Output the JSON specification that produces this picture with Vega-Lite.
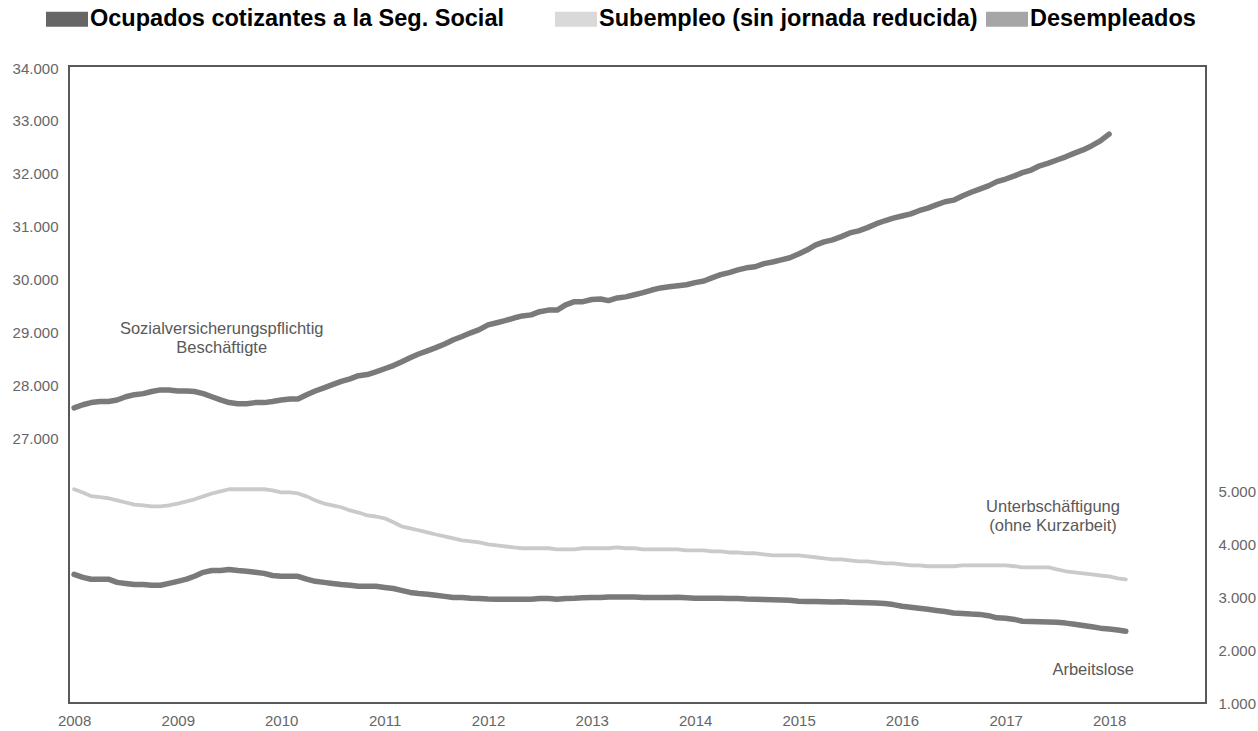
{
  "$schema": "https://vega.github.io/schema/vega-lite/v6.json",
  "width": 1137,
  "height": 637,
  "autosize": {"type": "none"},
  "padding": {"left": 69, "top": 66, "right": 52, "bottom": 28},
  "background": "white",
  "datasets": {
    "ocupados": [
      {"date":"2008-01","value":27570},{"date":"2008-02","value":27630},{"date":"2008-03","value":27670},{"date":"2008-04","value":27690},{"date":"2008-05","value":27690},{"date":"2008-06","value":27720},{"date":"2008-07","value":27780},{"date":"2008-08","value":27820},{"date":"2008-09","value":27840},{"date":"2008-10","value":27880},{"date":"2008-11","value":27910},{"date":"2008-12","value":27910},
      {"date":"2009-01","value":27890},{"date":"2009-02","value":27890},{"date":"2009-03","value":27880},{"date":"2009-04","value":27840},{"date":"2009-05","value":27780},{"date":"2009-06","value":27720},{"date":"2009-07","value":27670},{"date":"2009-08","value":27650},{"date":"2009-09","value":27650},{"date":"2009-10","value":27670},{"date":"2009-11","value":27670},{"date":"2009-12","value":27690},
      {"date":"2010-01","value":27720},{"date":"2010-02","value":27740},{"date":"2010-03","value":27740},{"date":"2010-04","value":27820},{"date":"2010-05","value":27890},{"date":"2010-06","value":27950},{"date":"2010-07","value":28010},{"date":"2010-08","value":28070},{"date":"2010-09","value":28120},{"date":"2010-10","value":28180},{"date":"2010-11","value":28200},{"date":"2010-12","value":28250},
      {"date":"2011-01","value":28310},{"date":"2011-02","value":28370},{"date":"2011-03","value":28440},{"date":"2011-04","value":28520},{"date":"2011-05","value":28590},{"date":"2011-06","value":28650},{"date":"2011-07","value":28710},{"date":"2011-08","value":28780},{"date":"2011-09","value":28860},{"date":"2011-10","value":28920},{"date":"2011-11","value":28990},{"date":"2011-12","value":29050},
      {"date":"2012-01","value":29140},{"date":"2012-02","value":29180},{"date":"2012-03","value":29220},{"date":"2012-04","value":29270},{"date":"2012-05","value":29310},{"date":"2012-06","value":29330},{"date":"2012-07","value":29390},{"date":"2012-08","value":29420},{"date":"2012-09","value":29420},{"date":"2012-10","value":29520},{"date":"2012-11","value":29580},{"date":"2012-12","value":29580},
      {"date":"2013-01","value":29620},{"date":"2013-02","value":29630},{"date":"2013-03","value":29600},{"date":"2013-04","value":29650},{"date":"2013-05","value":29670},{"date":"2013-06","value":29710},{"date":"2013-07","value":29750},{"date":"2013-08","value":29800},{"date":"2013-09","value":29840},{"date":"2013-10","value":29860},{"date":"2013-11","value":29880},{"date":"2013-12","value":29900},
      {"date":"2014-01","value":29940},{"date":"2014-02","value":29970},{"date":"2014-03","value":30030},{"date":"2014-04","value":30090},{"date":"2014-05","value":30130},{"date":"2014-06","value":30180},{"date":"2014-07","value":30220},{"date":"2014-08","value":30240},{"date":"2014-09","value":30300},{"date":"2014-10","value":30330},{"date":"2014-11","value":30370},{"date":"2014-12","value":30410},
      {"date":"2015-01","value":30480},{"date":"2015-02","value":30560},{"date":"2015-03","value":30650},{"date":"2015-04","value":30710},{"date":"2015-05","value":30750},{"date":"2015-06","value":30810},{"date":"2015-07","value":30880},{"date":"2015-08","value":30920},{"date":"2015-09","value":30980},{"date":"2015-10","value":31050},{"date":"2015-11","value":31110},{"date":"2015-12","value":31160},
      {"date":"2016-01","value":31200},{"date":"2016-02","value":31240},{"date":"2016-03","value":31300},{"date":"2016-04","value":31350},{"date":"2016-05","value":31410},{"date":"2016-06","value":31470},{"date":"2016-07","value":31500},{"date":"2016-08","value":31580},{"date":"2016-09","value":31650},{"date":"2016-10","value":31710},{"date":"2016-11","value":31770},{"date":"2016-12","value":31850},
      {"date":"2017-01","value":31900},{"date":"2017-02","value":31960},{"date":"2017-03","value":32020},{"date":"2017-04","value":32070},{"date":"2017-05","value":32150},{"date":"2017-06","value":32200},{"date":"2017-07","value":32260},{"date":"2017-08","value":32320},{"date":"2017-09","value":32390},{"date":"2017-10","value":32450},{"date":"2017-11","value":32530},{"date":"2017-12","value":32620},
      {"date":"2018-01","value":32750}
    ],
    "subempleo": [
      {"date":"2008-01","value":5040},{"date":"2008-02","value":4980},{"date":"2008-03","value":4910},{"date":"2008-04","value":4890},{"date":"2008-05","value":4870},{"date":"2008-06","value":4830},{"date":"2008-07","value":4790},{"date":"2008-08","value":4750},{"date":"2008-09","value":4735},{"date":"2008-10","value":4715},{"date":"2008-11","value":4715},{"date":"2008-12","value":4735},
      {"date":"2009-01","value":4770},{"date":"2009-02","value":4810},{"date":"2009-03","value":4850},{"date":"2009-04","value":4905},{"date":"2009-05","value":4960},{"date":"2009-06","value":5000},{"date":"2009-07","value":5040},{"date":"2009-08","value":5040},{"date":"2009-09","value":5040},{"date":"2009-10","value":5040},{"date":"2009-11","value":5040},{"date":"2009-12","value":5020},
      {"date":"2010-01","value":4980},{"date":"2010-02","value":4980},{"date":"2010-03","value":4960},{"date":"2010-04","value":4905},{"date":"2010-05","value":4830},{"date":"2010-06","value":4770},{"date":"2010-07","value":4735},{"date":"2010-08","value":4700},{"date":"2010-09","value":4640},{"date":"2010-10","value":4600},{"date":"2010-11","value":4545},{"date":"2010-12","value":4525},
      {"date":"2011-01","value":4490},{"date":"2011-02","value":4415},{"date":"2011-03","value":4340},{"date":"2011-04","value":4300},{"date":"2011-05","value":4265},{"date":"2011-06","value":4225},{"date":"2011-07","value":4185},{"date":"2011-08","value":4150},{"date":"2011-09","value":4110},{"date":"2011-10","value":4075},{"date":"2011-11","value":4055},{"date":"2011-12","value":4035},
      {"date":"2012-01","value":4000},{"date":"2012-02","value":3980},{"date":"2012-03","value":3960},{"date":"2012-04","value":3940},{"date":"2012-05","value":3925},{"date":"2012-06","value":3925},{"date":"2012-07","value":3925},{"date":"2012-08","value":3925},{"date":"2012-09","value":3905},{"date":"2012-10","value":3905},{"date":"2012-11","value":3905},{"date":"2012-12","value":3925},
      {"date":"2013-01","value":3925},{"date":"2013-02","value":3925},{"date":"2013-03","value":3925},{"date":"2013-04","value":3940},{"date":"2013-05","value":3925},{"date":"2013-06","value":3925},{"date":"2013-07","value":3905},{"date":"2013-08","value":3905},{"date":"2013-09","value":3905},{"date":"2013-10","value":3905},{"date":"2013-11","value":3905},{"date":"2013-12","value":3885},
      {"date":"2014-01","value":3885},{"date":"2014-02","value":3885},{"date":"2014-03","value":3865},{"date":"2014-04","value":3865},{"date":"2014-05","value":3845},{"date":"2014-06","value":3845},{"date":"2014-07","value":3830},{"date":"2014-08","value":3830},{"date":"2014-09","value":3810},{"date":"2014-10","value":3790},{"date":"2014-11","value":3790},{"date":"2014-12","value":3790},
      {"date":"2015-01","value":3790},{"date":"2015-02","value":3770},{"date":"2015-03","value":3755},{"date":"2015-04","value":3735},{"date":"2015-05","value":3715},{"date":"2015-06","value":3715},{"date":"2015-07","value":3695},{"date":"2015-08","value":3675},{"date":"2015-09","value":3675},{"date":"2015-10","value":3660},{"date":"2015-11","value":3640},{"date":"2015-12","value":3640},
      {"date":"2016-01","value":3620},{"date":"2016-02","value":3600},{"date":"2016-03","value":3600},{"date":"2016-04","value":3585},{"date":"2016-05","value":3585},{"date":"2016-06","value":3585},{"date":"2016-07","value":3585},{"date":"2016-08","value":3600},{"date":"2016-09","value":3600},{"date":"2016-10","value":3600},{"date":"2016-11","value":3600},{"date":"2016-12","value":3600},
      {"date":"2017-01","value":3600},{"date":"2017-02","value":3585},{"date":"2017-03","value":3565},{"date":"2017-04","value":3565},{"date":"2017-05","value":3565},{"date":"2017-06","value":3565},{"date":"2017-07","value":3525},{"date":"2017-08","value":3490},{"date":"2017-09","value":3470},{"date":"2017-10","value":3450},{"date":"2017-11","value":3430},{"date":"2017-12","value":3410},
      {"date":"2018-01","value":3395},{"date":"2018-02","value":3355},{"date":"2018-03","value":3335}
    ],
    "desempleados": [
      {"date":"2008-01","value":3430},{"date":"2008-02","value":3375},{"date":"2008-03","value":3340},{"date":"2008-04","value":3340},{"date":"2008-05","value":3340},{"date":"2008-06","value":3280},{"date":"2008-07","value":3260},{"date":"2008-08","value":3240},{"date":"2008-09","value":3240},{"date":"2008-10","value":3225},{"date":"2008-11","value":3225},{"date":"2008-12","value":3260},
      {"date":"2009-01","value":3300},{"date":"2009-02","value":3340},{"date":"2009-03","value":3395},{"date":"2009-04","value":3470},{"date":"2009-05","value":3505},{"date":"2009-06","value":3505},{"date":"2009-07","value":3525},{"date":"2009-08","value":3505},{"date":"2009-09","value":3490},{"date":"2009-10","value":3470},{"date":"2009-11","value":3450},{"date":"2009-12","value":3410},
      {"date":"2010-01","value":3395},{"date":"2010-02","value":3395},{"date":"2010-03","value":3395},{"date":"2010-04","value":3340},{"date":"2010-05","value":3300},{"date":"2010-06","value":3280},{"date":"2010-07","value":3260},{"date":"2010-08","value":3240},{"date":"2010-09","value":3225},{"date":"2010-10","value":3205},{"date":"2010-11","value":3205},{"date":"2010-12","value":3205},
      {"date":"2011-01","value":3185},{"date":"2011-02","value":3165},{"date":"2011-03","value":3130},{"date":"2011-04","value":3090},{"date":"2011-05","value":3070},{"date":"2011-06","value":3055},{"date":"2011-07","value":3035},{"date":"2011-08","value":3015},{"date":"2011-09","value":2995},{"date":"2011-10","value":2995},{"date":"2011-11","value":2980},{"date":"2011-12","value":2975},
      {"date":"2012-01","value":2965},{"date":"2012-02","value":2960},{"date":"2012-03","value":2960},{"date":"2012-04","value":2960},{"date":"2012-05","value":2960},{"date":"2012-06","value":2960},{"date":"2012-07","value":2975},{"date":"2012-08","value":2975},{"date":"2012-09","value":2960},{"date":"2012-10","value":2975},{"date":"2012-11","value":2980},{"date":"2012-12","value":2990},
      {"date":"2013-01","value":2995},{"date":"2013-02","value":2995},{"date":"2013-03","value":3005},{"date":"2013-04","value":3005},{"date":"2013-05","value":3005},{"date":"2013-06","value":3005},{"date":"2013-07","value":2995},{"date":"2013-08","value":2995},{"date":"2013-09","value":2995},{"date":"2013-10","value":2995},{"date":"2013-11","value":3000},{"date":"2013-12","value":2990},
      {"date":"2014-01","value":2980},{"date":"2014-02","value":2980},{"date":"2014-03","value":2980},{"date":"2014-04","value":2980},{"date":"2014-05","value":2975},{"date":"2014-06","value":2975},{"date":"2014-07","value":2965},{"date":"2014-08","value":2960},{"date":"2014-09","value":2955},{"date":"2014-10","value":2950},{"date":"2014-11","value":2945},{"date":"2014-12","value":2940},
      {"date":"2015-01","value":2925},{"date":"2015-02","value":2920},{"date":"2015-03","value":2920},{"date":"2015-04","value":2915},{"date":"2015-05","value":2910},{"date":"2015-06","value":2915},{"date":"2015-07","value":2905},{"date":"2015-08","value":2900},{"date":"2015-09","value":2895},{"date":"2015-10","value":2890},{"date":"2015-11","value":2880},{"date":"2015-12","value":2860},
      {"date":"2016-01","value":2830},{"date":"2016-02","value":2810},{"date":"2016-03","value":2790},{"date":"2016-04","value":2770},{"date":"2016-05","value":2750},{"date":"2016-06","value":2730},{"date":"2016-07","value":2700},{"date":"2016-08","value":2690},{"date":"2016-09","value":2680},{"date":"2016-10","value":2675},{"date":"2016-11","value":2650},{"date":"2016-12","value":2610},
      {"date":"2017-01","value":2600},{"date":"2017-02","value":2580},{"date":"2017-03","value":2545},{"date":"2017-04","value":2540},{"date":"2017-05","value":2535},{"date":"2017-06","value":2530},{"date":"2017-07","value":2525},{"date":"2017-08","value":2510},{"date":"2017-09","value":2490},{"date":"2017-10","value":2465},{"date":"2017-11","value":2440},{"date":"2017-12","value":2415},
      {"date":"2018-01","value":2400},{"date":"2018-02","value":2380},{"date":"2018-03","value":2355}
    ],
    "labelsLeft": [
      {"date":"2009-06-05","value":29067,"label":"Sozialversicherungspflichtig"},
      {"date":"2009-06-05","value":28710,"label":"Beschäftigte"}
    ],
    "labelsRight": [
      {"date":"2017-06-17","value":4700,"label":"Unterbschäftigung"},
      {"date":"2017-06-17","value":4340,"label":"(ohne Kurzarbeit)"},
      {"date":"2017-11-06","value":1617,"label":"Arbeitslose"}
    ],
    "legendRows": [
      {"date":"2010-01","value":30000,"series":"Ocupados cotizantes a la Seg. Social"},
      {"date":"2010-01","value":30000,"series":"Subempleo (sin jornada reducida)"},
      {"date":"2010-01","value":30000,"series":"Desempleados"}
    ]
  },
  "encoding": {
    "x": {
      "field": "date",
      "type": "temporal",
      "title": null,
      "scale": {"type": "utc", "domain": [{"year": 2007, "month": 12, "date": 14, "utc": true}, {"year": 2018, "month": 12, "date": 9, "utc": true}]},
      "axis": {
        "values": [{"year":2008,"utc":true},{"year":2009,"utc":true},{"year":2010,"utc":true},{"year":2011,"utc":true},{"year":2012,"utc":true},{"year":2013,"utc":true},{"year":2014,"utc":true},{"year":2015,"utc":true},{"year":2016,"utc":true},{"year":2017,"utc":true},{"year":2018,"utc":true}],
        "format": "%Y",
        "labelPadding": 10,
        "labelOverlap": false,
        "labelFlush": false
      }
    }
  },
  "layer": [
    {
      "layer": [
        {
          "data": {"name": "ocupados"},
          "mark": {"type": "line", "color": "#7a7a7a", "strokeWidth": 5.5, "strokeCap": "round", "strokeJoin": "round"},
          "encoding": {
            "y": {"field": "value", "type": "quantitative", "title": null,
              "scale": {"domain": [21987, 34038], "nice": false, "zero": false},
              "axis": {"orient": "left", "values": [27000,28000,29000,30000,31000,32000,33000,34000], "labelExpr": "replace(format(datum.value, ','), ',', '.')", "labelPadding": 11}}
          }
        },
        {
          "data": {"name": "labelsLeft"},
          "mark": {"type": "text", "font": "Liberation Sans", "fontSize": 16.5, "color": "#595959", "align": "center", "baseline": "middle"},
          "encoding": {
            "y": {"field": "value", "type": "quantitative", "title": null, "scale": {"domain": [21987, 34038], "nice": false, "zero": false}},
            "text": {"field": "label"}
          }
        },
        {
          "data": {"name": "legendRows"},
          "mark": {"type": "square", "opacity": 0, "size": 10},
          "encoding": {
            "y": {"field": "value", "type": "quantitative", "title": null, "scale": {"domain": [21987, 34038], "nice": false, "zero": false}},
            "fill": {"field": "series", "type": "nominal",
              "scale": {"domain": ["Ocupados cotizantes a la Seg. Social", "Subempleo (sin jornada reducida)", "Desempleados"], "range": ["#666666", "#d9d9d9", "#a6a6a6"]},
              "legend": {"title": null, "orient": "none", "legendX": -23, "legendY": -68, "direction": "horizontal",
                "symbolType": "M-1,-0.36H1V0.36H-1Z", "symbolSize": 1764, "symbolStrokeWidth": 0, "symbolOpacity": 1,
                "labelFont": "Liberation Sans", "labelFontSize": 23.5, "labelFontWeight": "bold", "labelColor": "#000000",
                "labelExpr": "datum.label == 'Ocupados cotizantes a la Seg. Social' ? datum.label + '\u00a0\u2800\u2800' : datum.label",
                "labelLimit": 1000, "labelOffset": 2, "columnPadding": 8, "padding": 0}}
          }
        }
      ]
    },
    {
      "layer": [
        {
          "data": {"name": "subempleo"},
          "mark": {"type": "line", "color": "#cacaca", "strokeWidth": 3.8, "strokeCap": "round", "strokeJoin": "round"},
          "encoding": {
            "y": {"field": "value", "type": "quantitative", "title": null,
              "scale": {"domain": [1000, 13040], "nice": false, "zero": false},
              "axis": {"orient": "right", "values": [1000,2000,3000,4000,5000], "labelExpr": "replace(format(datum.value, ','), ',', '.')", "labelPadding": 12}}
          }
        },
        {
          "data": {"name": "desempleados"},
          "mark": {"type": "line", "color": "#7a7a7a", "strokeWidth": 5.5, "strokeCap": "round", "strokeJoin": "round"},
          "encoding": {
            "y": {"field": "value", "type": "quantitative", "title": null, "scale": {"domain": [1000, 13040], "nice": false, "zero": false}}
          }
        },
        {
          "data": {"name": "labelsRight"},
          "mark": {"type": "text", "font": "Liberation Sans", "fontSize": 16.5, "color": "#595959", "align": "center", "baseline": "middle"},
          "encoding": {
            "y": {"field": "value", "type": "quantitative", "title": null, "scale": {"domain": [1000, 13040], "nice": false, "zero": false}},
            "text": {"field": "label"}
          }
        }
      ]
    }
  ],
  "resolve": {"scale": {"y": "independent"}},
  "config": {
    "view": {"stroke": "#595959", "strokeWidth": 2},
    "axis": {"labelFont": "Liberation Sans", "labelFontSize": 15, "labelColor": "#666666", "ticks": false, "domain": false, "grid": false}
  }
}
